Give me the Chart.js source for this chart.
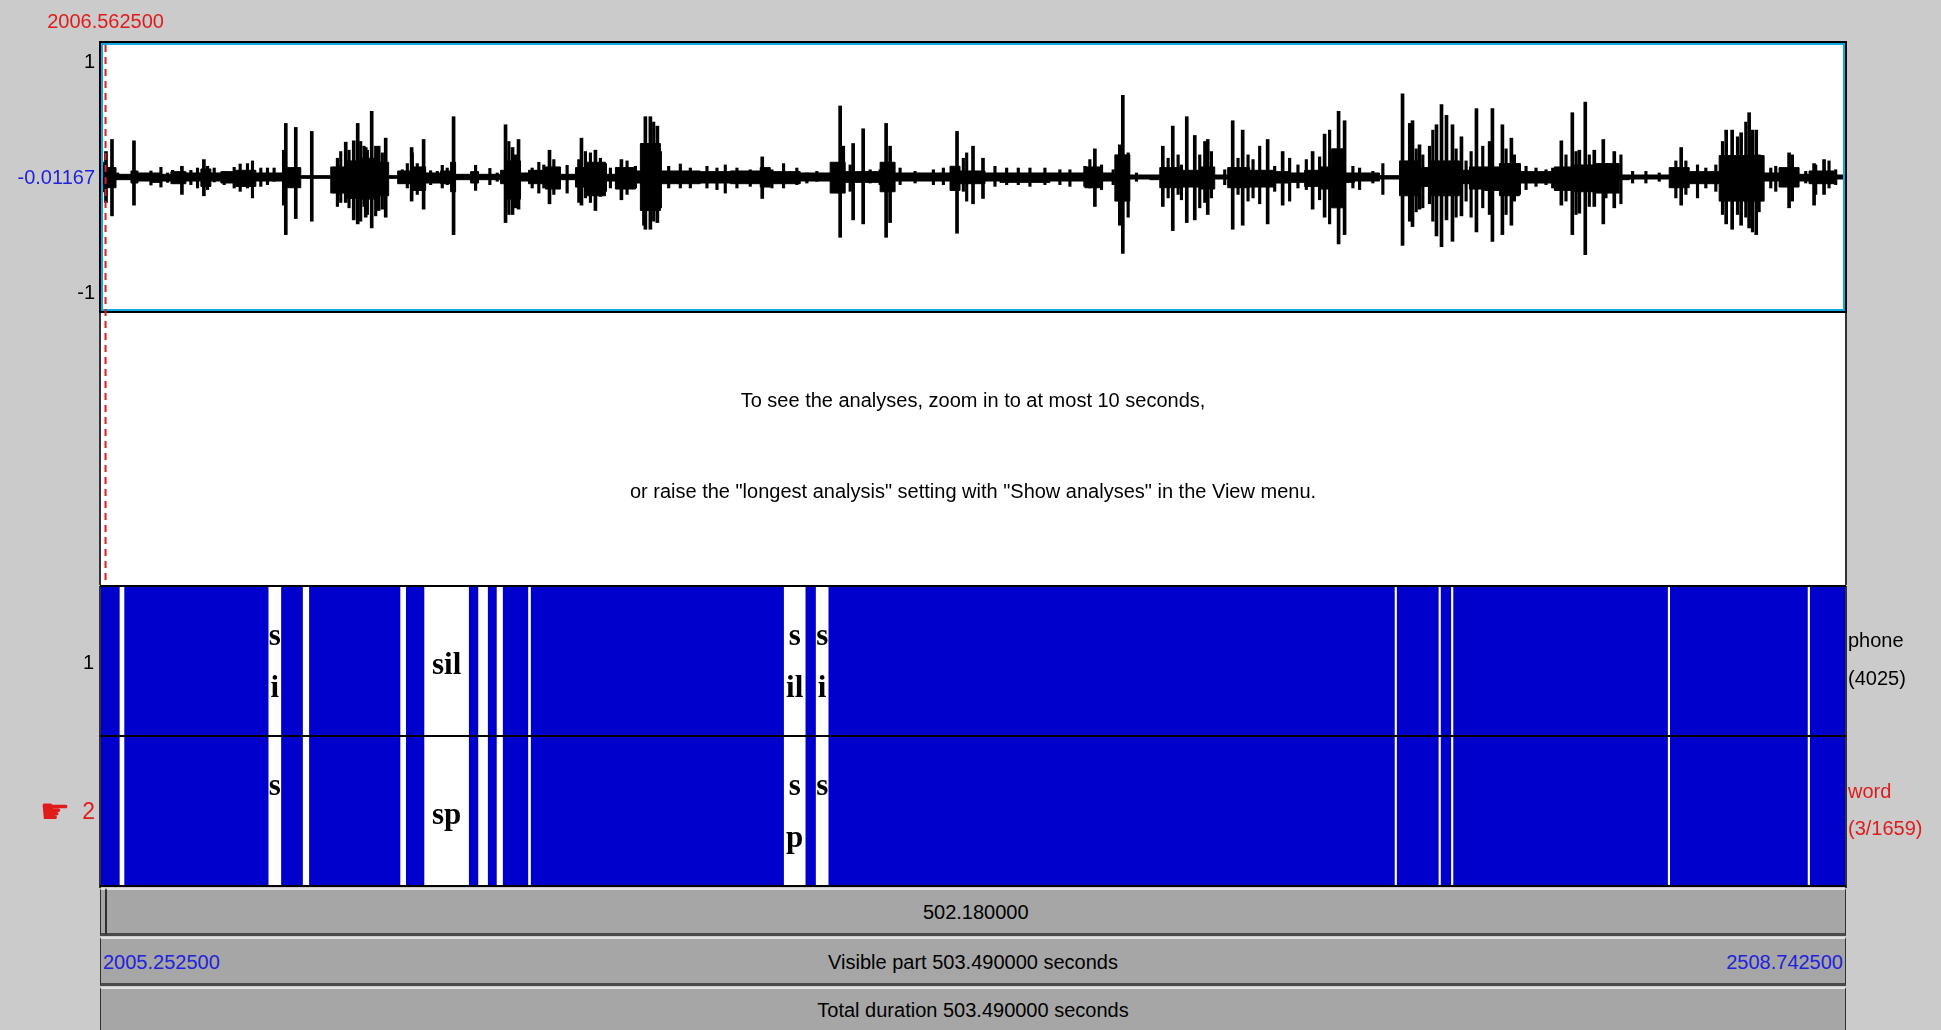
<!DOCTYPE html>
<html>
<head>
<meta charset="utf-8">
<script src="https://cdn.jsdelivr.net/npm/chart.js@4.4.1/dist/chart.umd.min.js"></script>
<style>
  html, body { margin: 0; padding: 0; }
  body { width: 1941px; height: 1030px; background: #cbcbcb; position: relative; overflow: hidden;
         font-family: 'Liberation Sans', Arial, sans-serif; font-size: 20px; }
  canvas { position: absolute; left: 0; }
  #wave { top: 0; }
  #tiers { top: 585px; }
  .t { position: absolute; white-space: nowrap; line-height: 1; z-index: 5; }
  .c { transform: translate(-50%, -50%); }
  .l { transform: translate(0, -50%); }
  .r { transform: translate(-100%, -50%); }
  .red { color: #e01b1b; }
  .blue { color: #2222dd; }
  .bar { position: absolute; background: #a6a6a6; box-sizing: border-box;
         border-top: 2px solid #e2e2e2; border-bottom: 3px solid #4a4a4a; border-left: 1px solid #303030; border-right: 1px solid #303030; }
</style>
</head>
<body>
<canvas id="wave" width="1941" height="585"></canvas>
<canvas id="tiers" width="1941" height="303"></canvas>
<div id="overlay"></div>
<script>
// visible window (seconds)
const viewStart = 2005.2525;
const viewEnd = 2508.7425;
const cursorTime = 2006.5625;

// waveform amplitude ticks
const ampTicks = [1, -0.01167, -1];
const ampTickLabels = ['1', '-0.01167', '-1'];

// waveform body envelope: start of each step (s after viewStart), upper and lower amplitude
const envT = [0, 1.44, 4.33, 8.65, 10.67, 14.42, 17.30, 20.19, 24.51, 28.84, 31.72, 34.60, 38.93, 44.70, 49.02, 52.48,
  57.67, 66.33, 70.65, 74.98, 79.30, 83.05, 85.65, 89.39, 93.72, 98.05, 100.93, 102.37, 106.70, 109.00, 115.35, 116.79,
  121.12, 123.42, 128.32, 132.65, 136.98, 139.86, 145.63, 148.51, 154.28, 155.72, 161.49, 173.02, 181.67, 190.32, 193.21,
  201.86, 210.51, 214.84, 224.93, 229.25, 245.11, 248.00, 255.21, 259.53, 273.95, 284.04, 288.37, 292.70, 297.02, 302.79,
  305.67, 311.44, 317.21, 321.53, 325.28, 331.63, 338.83, 343.16, 347.49, 351.81, 355.27, 359.02, 361.90, 369.11, 374.88,
  380.65, 383.53, 392.18, 395.07, 399.39, 403.72, 409.49, 419.58, 425.35, 431.11, 438.32, 441.21, 452.74, 458.51, 467.16,
  480.14, 484.46, 490.23, 493.11, 500.33, 503.49];
const envHi = [0.11, 0.07, 0.02, 0.045, 0.03, 0.03, 0.02, 0.04, 0.03, 0.06, 0.03, 0.04, 0.05, 0.03, 0.03, 0.07,
  0.01, 0.075, 0.12, 0.14, 0.11, 0.01, 0.045, 0.075, 0.03, 0.045, 0.11, 0.02, 0.04, 0.02, 0.05, 0.12,
  0.03, 0.05, 0.075, 0.02, 0.07, 0.11, 0.02, 0.07, 0.045, 0.25, 0.045, 0.04, 0.045, 0.07, 0.04,
  0.03, 0.11, 0.04, 0.11, 0.03, 0.08, 0.045, 0.03, 0.03, 0.03, 0.075, 0.03, 0.165, 0.015, 0.015,
  0.07, 0.05, 0.075, 0.015, 0.07, 0.05, 0.04, 0.03, 0.05, 0.075, 0.21, 0.03, 0.03, 0.01, 0.12,
  0.07, 0.12, 0.05, 0.075, 0.075, 0.10, 0.04, 0.075, 0.09, 0.10, 0.015, 0.015, 0.07, 0.04, 0.16,
  0.03, 0.07, 0.02, 0.045, 0.015, 0.015];
const envLo = [-0.11, -0.08, -0.02, -0.045, -0.03, -0.04, -0.03, -0.05, -0.03, -0.07, -0.03, -0.045, -0.07, -0.03, -0.03, -0.08,
  -0.01, -0.12, -0.16, -0.165, -0.14, -0.01, -0.05, -0.10, -0.045, -0.05, -0.11, -0.02, -0.045, -0.02, -0.05, -0.165,
  -0.03, -0.05, -0.09, -0.02, -0.075, -0.14, -0.03, -0.09, -0.045, -0.25, -0.05, -0.045, -0.05, -0.075, -0.05,
  -0.03, -0.12, -0.04, -0.11, -0.03, -0.10, -0.05, -0.03, -0.04, -0.03, -0.08, -0.03, -0.18, -0.015, -0.02,
  -0.08, -0.075, -0.09, -0.015, -0.08, -0.075, -0.045, -0.04, -0.07, -0.09, -0.23, -0.04, -0.03, -0.015, -0.14,
  -0.07, -0.14, -0.05, -0.09, -0.10, -0.14, -0.045, -0.10, -0.11, -0.12, -0.02, -0.015, -0.08, -0.05, -0.18,
  -0.03, -0.075, -0.03, -0.05, -0.015, -0.015];

// tall isolated peaks (s after viewStart), max and min amplitude
const spikeT = [1.44, 3.17, 9.52, 23.36, 29.70, 52.77, 53.35, 56.23, 60.85, 70.65, 72.96, 74.11, 76.42, 78.15, 80.17, 82.19,
  89.68, 93.14, 101.79, 116.79, 118.81, 120.54, 129.48, 138.71, 142.74, 150.24, 157.16, 158.60, 160.62, 190.90, 213.39,
  217.14, 220.03, 226.66, 227.81, 247.13, 251.75, 254.63, 286.93, 294.14, 295.00, 306.54, 309.42, 313.46, 315.77, 319.51,
  326.72, 329.60, 336.81, 341.14, 349.79, 353.25, 357.29, 359.02, 375.75, 378.63, 380.65, 385.55, 387.00, 388.44, 390.17,
  392.76, 397.09, 401.70, 404.58, 407.18, 421.60, 424.77, 426.79, 428.51, 431.11, 433.71, 436.88, 456.20, 469.18, 470.91,
  473.50, 475.81, 477.86, 487.35, 494.56, 497.44];
const spikeHi = [0.19, 0.28, 0.27, 0.08, 0.13, 0.20, 0.40, 0.37, 0.34, 0.26, 0.27, 0.40, 0.22, 0.49, 0.23, 0.29,
  0.22, 0.28, 0.45, 0.39, 0.22, 0.28, 0.20, 0.29, 0.20, 0.13, 0.45, 0.45, 0.38, 0.15, 0.53,
  0.25, 0.36, 0.40, 0.23, 0.34, 0.23, 0.14, 0.21, 0.24, 0.61, 0.23, 0.38, 0.45, 0.31, 0.28,
  0.42, 0.35, 0.28, 0.19, 0.19, 0.32, 0.49, 0.42, 0.62, 0.42, 0.24, 0.39, 0.54, 0.46, 0.39,
  0.30, 0.51, 0.51, 0.39, 0.29, 0.27, 0.48, 0.20, 0.56, 0.20, 0.28, 0.19, 0.22, 0.35, 0.35,
  0.33, 0.48, 0.35, 0.18, 0.10, 0.13];
const spikeLo = [-0.19, -0.29, -0.21, -0.13, -0.14, -0.21, -0.43, -0.31, -0.33, -0.19, -0.32, -0.35, -0.30, -0.38, -0.25, -0.30,
  -0.18, -0.24, -0.43, -0.34, -0.28, -0.24, -0.20, -0.21, -0.25, -0.17, -0.39, -0.39, -0.34, -0.16, -0.45,
  -0.32, -0.35, -0.45, -0.34, -0.42, -0.20, -0.16, -0.22, -0.36, -0.57, -0.22, -0.40, -0.34, -0.32, -0.28,
  -0.39, -0.36, -0.35, -0.21, -0.24, -0.30, -0.50, -0.43, -0.51, -0.37, -0.24, -0.44, -0.52, -0.32, -0.48,
  -0.29, -0.41, -0.48, -0.43, -0.36, -0.21, -0.43, -0.27, -0.58, -0.22, -0.35, -0.23, -0.21, -0.35, -0.39,
  -0.36, -0.38, -0.43, -0.23, -0.21, -0.13];

// smaller peaks sticking out of the body
const minorT = [4.81, 11.53, 14.42, 17.30, 19.22, 20.67, 25.95, 27.87, 30.76, 32.68, 35.56, 38.45, 40.18, 42.29, 43.73, 46.14,
  48.06, 49.98, 68.25, 69.21, 71.61, 74.97, 75.93, 76.90, 79.30, 81.22, 86.99, 88.43, 89.87, 91.31, 95.16, 97.08, 98.52, 99.96,
  108.14, 112.27, 114.39, 117.75, 119.67, 124.48, 126.40, 127.84, 130.73, 132.17, 134.57, 137.94, 139.86, 141.30, 144.18,
  145.63, 147.07, 148.99, 151.87, 154.28, 156.68, 159.56, 161.49, 163.89, 167.25, 170.14, 174.94, 177.83, 180.23, 183.59,
  187.44, 193.69, 197.05, 200.89,
  203.78, 206.67, 211.47, 214.36, 216.28, 222.05, 224.93, 230.70, 235.02, 240.31, 243.19, 248.96, 249.92, 258.09, 261.46,
  264.82, 268.18, 272.51, 276.83, 279.72, 284.04, 285.48, 288.85, 292.21, 293.65, 296.54, 298.94,
  308.08, 310.96, 311.92, 317.21, 318.65, 320.57, 324.42, 328.26, 331.15, 332.59, 334.51, 338.84, 343.16, 345.56, 347.97,
  351.81, 354.70, 361.42, 363.35, 367.19, 370.07, 377.77, 379.69, 381.61, 383.53, 384.49, 391.22, 394.10, 395.55, 398.91, 400.83,
  405.64, 408.05, 409.49, 411.41, 414.29, 417.18, 419.10, 422.94, 425.83, 429.67, 434.48, 438.80, 442.17, 446.01, 449.86,
  454.66, 457.55, 460.91, 463.31, 466.20, 468.12, 472.45, 474.85, 476.77, 478.70, 482.06, 483.50, 488.31, 492.15, 495.03,
  498.88, 500.80];
const minorHi = [0.03, 0.022, 0.045, 0.072, 0.03, 0.05, 0.05, 0.067, 0.08, 0.067, 0.042, 0.072, 0.097, 0.10, 0.12, 0.067,
  0.067, 0.067, 0.14, 0.19, 0.20, 0.265, 0.23, 0.20, 0.23, 0.18, 0.054, 0.10, 0.18, 0.10, 0.047, 0.042, 0.087, 0.067,
  0.087, 0.064, 0.03, 0.265, 0.165, 0.067, 0.11, 0.09, 0.13, 0.067, 0.087, 0.13, 0.19, 0.18, 0.14,
  0.10, 0.067, 0.067, 0.12, 0.08, 0.23, 0.41, 0.19, 0.08, 0.097, 0.067, 0.08, 0.067, 0.09, 0.067,
  0.054, 0.054, 0.10, 0.067,
  0.03, 0.042, 0.067, 0.23, 0.09, 0.054, 0.054, 0.067, 0.042, 0.054, 0.067, 0.14, 0.18, 0.08, 0.067,
  0.067, 0.067, 0.067, 0.054, 0.054, 0.08, 0.13, 0.09, 0.054, 0.14, 0.18, 0.03,
  0.14, 0.165, 0.09, 0.165, 0.265, 0.19, 0.054, 0.14, 0.165, 0.13, 0.23, 0.08, 0.14, 0.09, 0.13,
  0.15, 0.35, 0.08, 0.067, 0.042, 0.10, 0.40, 0.21, 0.165, 0.23, 0.35, 0.21, 0.12, 0.19, 0.23, 0.265,
  0.21, 0.165, 0.10, 0.08, 0.067, 0.054, 0.067, 0.165, 0.19, 0.165, 0.09, 0.165, 0.042, 0.042, 0.03,
  0.12, 0.12, 0.09, 0.067, 0.09, 0.265, 0.30, 0.41, 0.35, 0.165, 0.067, 0.08, 0.165, 0.042, 0.09,
  0.12, 0.054];
const minorLo = [-0.02, -0.02, -0.06, -0.075, -0.04, -0.03, -0.057, -0.082, -0.094, -0.037, -0.057, -0.082, -0.107, -0.082, -0.156, -0.07,
  -0.057, -0.032, -0.22, -0.19, -0.23, -0.33, -0.22, -0.28, -0.29, -0.24, -0.045, -0.082, -0.07, -0.13, -0.057, -0.032, -0.082, -0.057,
  -0.10, -0.057, -0.032, -0.28, -0.23, -0.082, -0.12, -0.082, -0.13, -0.082, -0.12, -0.19, -0.156, -0.19, -0.145,
  -0.107, -0.082, -0.082, -0.13, -0.082, -0.36, -0.33, -0.23, -0.082, -0.082, -0.082, -0.082, -0.094, -0.12, -0.082,
  -0.07, -0.082, -0.082, -0.057,
  -0.045, -0.032, -0.07, -0.082, -0.107, -0.045, -0.057, -0.057, -0.045, -0.057, -0.057, -0.107, -0.18, -0.07, -0.057,
  -0.057, -0.07, -0.057, -0.057, -0.07, -0.07, -0.082, -0.094, -0.057, -0.156, -0.30, -0.032,
  -0.156, -0.13, -0.17, -0.23, -0.19, -0.156, -0.057, -0.13, -0.18, -0.156, -0.20, -0.107, -0.18, -0.082, -0.094,
  -0.17, -0.35, -0.082, -0.094, -0.045, -0.13, -0.33, -0.26, -0.23, -0.20, -0.33, -0.30, -0.18, -0.30, -0.23, -0.28,
  -0.28, -0.18, -0.13, -0.094, -0.07, -0.057, -0.082, -0.18, -0.28, -0.22, -0.156, -0.20, -0.045, -0.045, -0.032,
  -0.156, -0.13, -0.156, -0.082, -0.107, -0.28, -0.28, -0.30, -0.41, -0.26, -0.082, -0.107, -0.18, -0.045, -0.13,
  -0.082, -0.057];

// textgrid: tiers and the long (readable) intervals, s after viewStart
const tierNames = ['phone', 'word'];
const tierInfo = ['(4025)', '(3/1659)'];
const gapStarts = [5.48, 48.45, 58.37, 86.51, 93.43, 109.00, 114.34, 123.42, 197.25, 206.47, 373.59, 386.27, 389.87, 452.45, 492.83];
const gapEnds = [6.63, 51.91, 59.98, 87.95, 106.12, 111.60, 115.92, 124.00, 203.30, 209.93, 374.02, 386.70, 390.30, 452.88, 493.26];
const phoneLabels = ['', 's|i', '', '', 'sil', '', '', '', 's|il', 's|i', '', '', '', '', ''];
const wordLabels = ['', 's|', '', '', 'sp', '', '', '', 's|p', 's|', '', '', '', '', ''];

const PAD = { left: 101, right: 96 };

// ---------- waveform ----------
const waveFrame = {
  id: 'waveFrame',
  beforeDraw(chart) {
    const { ctx, chartArea: a } = chart;
    ctx.save();
    ctx.fillStyle = '#ffffff';
    ctx.fillRect(a.left, a.top, a.width, chart.height - a.top);
    ctx.restore();
  },
  afterDraw(chart) {
    const { ctx, chartArea: a, scales: { x, y } } = chart;
    ctx.save();
    // analysis area side borders
    ctx.strokeStyle = '#000';
    ctx.lineWidth = 1.5;
    ctx.beginPath();
    ctx.moveTo(a.left - 1, a.bottom); ctx.lineTo(a.left - 1, chart.height);
    ctx.moveTo(a.right + 1, a.bottom); ctx.lineTo(a.right + 1, chart.height);
    ctx.stroke();
    // selected channel frame
    ctx.lineWidth = 2;
    ctx.strokeStyle = '#000';
    ctx.strokeRect(a.left - 1, a.top - 1, a.width + 2, a.height + 2);
    ctx.strokeStyle = '#10a8e0';
    ctx.strokeRect(a.left + 1, a.top + 1, a.width - 2, a.height - 2);
    // cursor
    const cx = x.getPixelForValue(cursorTime);
    ctx.strokeStyle = '#e01b1b';
    ctx.lineWidth = 2;
    ctx.setLineDash([7, 5]);
    ctx.beginPath();
    ctx.moveTo(cx, a.top + 2); ctx.lineTo(cx, chart.height);
    ctx.stroke();
    ctx.setLineDash([]);
    // amplitude labels
    ctx.font = '20px "Liberation Sans", Arial, sans-serif';
    ctx.textAlign = 'right';
    ctx.textBaseline = 'middle';
    ampTicks.forEach((v, i) => {
      let py = y.getPixelForValue(v);
      if (v === y.max) py += 19;
      if (v === y.min) py -= 18;
      ctx.fillStyle = i === 1 ? '#2222dd' : '#000';
      ctx.fillText(ampTickLabels[i], a.left - 6, py);
    });
    ctx.restore();
  }
};

const abs = t => viewStart + t;
const peaks = (ts, hi, lo) => ts.map((t, i) => ({ x: abs(t), y: [lo[i], hi[i]] }));

new Chart(document.getElementById('wave'), {
  type: 'line',
  data: {
    datasets: [
      {
        label: 'max',
        data: envT.map((t, i) => ({ x: abs(t), y: envHi[i] })),
        stepped: 'before',
        borderColor: '#000', borderWidth: 1,
        backgroundColor: '#000',
        fill: '+1',
        pointRadius: 0,
        order: 2
      },
      {
        label: 'min',
        data: envT.map((t, i) => ({ x: abs(t), y: envLo[i] })),
        stepped: 'before',
        borderColor: '#000', borderWidth: 1,
        fill: false,
        pointRadius: 0,
        order: 2
      },
      {
        type: 'bar',
        label: 'peaks',
        data: peaks(spikeT, spikeHi, spikeLo),
        backgroundColor: '#000',
        barThickness: 3,
        grouped: false,
        order: 1
      },
      {
        type: 'bar',
        label: 'minor peaks',
        data: peaks(minorT, minorHi, minorLo),
        backgroundColor: '#000',
        barThickness: 2.5,
        grouped: false,
        order: 1
      },
      {
        label: 'zero',
        data: [{ x: viewStart, y: 0 }, { x: viewEnd, y: 0 }],
        borderColor: '#10a8e0', borderWidth: 1,
        pointRadius: 0,
        order: 3
      }
    ]
  },
  options: {
    responsive: false,
    animation: false,
    events: [],
    layout: { padding: { left: PAD.left, right: PAD.right, top: 43, bottom: 585 - 311 } },
    plugins: { legend: { display: false }, tooltip: { enabled: false } },
    scales: {
      x: { type: 'linear', min: viewStart, max: viewEnd, offset: false, display: false },
      y: { type: 'linear', min: -1, max: 1, display: false }
    }
  },
  plugins: [waveFrame]
});

// ---------- text tiers ----------
const tierFrame = {
  id: 'tierFrame',
  afterDraw(chart) {
    const { ctx, chartArea: a, scales: { x, y } } = chart;
    ctx.save();
    ctx.strokeStyle = '#000';
    ctx.lineWidth = 2;
    const mid = (a.top + a.bottom) / 2;
    ctx.beginPath();
    ctx.moveTo(a.left - 1, a.top); ctx.lineTo(a.right + 1, a.top);
    ctx.moveTo(a.left - 1, mid); ctx.lineTo(a.right + 1, mid);
    ctx.moveTo(a.left - 1, a.bottom); ctx.lineTo(a.right + 1, a.bottom);
    ctx.stroke();
    ctx.lineWidth = 1.5;
    ctx.beginPath();
    ctx.moveTo(a.left - 1, a.top); ctx.lineTo(a.left - 1, chart.height);
    ctx.moveTo(a.right + 1, a.top); ctx.lineTo(a.right + 1, chart.height);
    ctx.stroke();
    // interval texts
    ctx.fillStyle = '#000';
    ctx.font = 'bold 31px "Liberation Serif", "Times New Roman", serif';
    ctx.textAlign = 'center';
    ctx.textBaseline = 'alphabetic';
    [phoneLabels, wordLabels].forEach((labels, ti) => {
      const cy = y.getPixelForValue(ti);
      labels.forEach((txt, i) => {
        if (!txt) return;
        const lines = txt.split('|');
        const cx = x.getPixelForValue(abs((gapStarts[i] + gapEnds[i]) / 2));
        lines.forEach((ln, k) => {
          const by = cy + (lines.length > 1 ? 10 : 13) + (k - (lines.length - 1) / 2) * 52;
          ctx.fillText(ln, cx, by);
        });
      });
    });
    ctx.restore();
  }
};

const gapData = name => gapStarts.map((s, i) => ({ y: name, x: [abs(s), abs(gapEnds[i])] }));

new Chart(document.getElementById('tiers'), {
  type: 'bar',
  data: {
    labels: tierNames,
    datasets: [
      {
        label: 'intervals',
        data: tierNames.map(n => ({ y: n, x: [viewStart, viewEnd] })),
        backgroundColor: '#0000cc',
        order: 2
      },
      { label: 'phone', data: gapData('phone'), backgroundColor: '#ffffff', order: 1 },
      { label: 'word', data: gapData('word'), backgroundColor: '#ffffff', order: 1 }
    ]
  },
  options: {
    indexAxis: 'y',
    responsive: false,
    animation: false,
    events: [],
    grouped: false,
    barPercentage: 1,
    categoryPercentage: 1,
    layout: { padding: { left: PAD.left, right: PAD.right, top: 1, bottom: 2 } },
    plugins: { legend: { display: false }, tooltip: { enabled: false } },
    scales: {
      x: { type: 'linear', min: viewStart, max: viewEnd, display: false },
      y: { type: 'category', display: false }
    }
  },
  plugins: [tierFrame]
});

// ---------- surrounding texts and time bars ----------
const ov = document.getElementById('overlay');
const areaL = PAD.left, areaR = 1941 - PAD.right;
const tx = t => areaL + (t - viewStart) / (viewEnd - viewStart) * (areaR - areaL);
function put(text, x, y, cls) {
  const d = document.createElement('div');
  d.className = 't ' + cls;
  d.style.left = x + 'px';
  d.style.top = y + 'px';
  d.innerHTML = text;
  ov.appendChild(d);
  return d;
}
function bar(x0, x1, y0, h) {
  const d = document.createElement('div');
  d.className = 'bar';
  d.style.left = x0 + 'px'; d.style.width = (x1 - x0) + 'px';
  d.style.top = y0 + 'px'; d.style.height = h + 'px';
  ov.appendChild(d);
}

put(cursorTime.toFixed(6), tx(cursorTime), 21, 'c red');
put('To see the analyses, zoom in to at most 10 seconds,', (areaL + areaR) / 2, 400, 'c');
put('or raise the "longest analysis" setting with "Show analyses" in the View menu.', (areaL + areaR) / 2, 491, 'c');

put('1', 94, 662, 'r');
put('<span style="font-family:\'DejaVu Sans\';font-size:34px;vertical-align:-4px">&#x261B;</span><span style="margin-left:12px;font-size:23px">2</span>', 95, 811, 'r red');
put(tierNames[0], 1848, 640, 'l');
put(tierInfo[0], 1848, 678, 'l');
put(tierNames[1], 1848, 791, 'l red');
put(tierInfo[1], 1848, 828, 'l red');

const cx = tx(cursorTime);
bar(100, cx, 888, 48);
bar(cx, 1846, 888, 48);
bar(100, 1846, 937, 49);
bar(100, 1846, 987, 50);
put((viewEnd - cursorTime).toFixed(6), (cx + 1846) / 2, 912, 'c');
put(viewStart.toFixed(6), 103, 962, 'l blue');
put('Visible part ' + (viewEnd - viewStart).toFixed(6) + ' seconds', 973, 962, 'c');
put(viewEnd.toFixed(6), 1843, 962, 'r blue');
put('Total duration ' + (viewEnd - viewStart).toFixed(6) + ' seconds', 973, 1010, 'c');
</script>
</body>
</html>
